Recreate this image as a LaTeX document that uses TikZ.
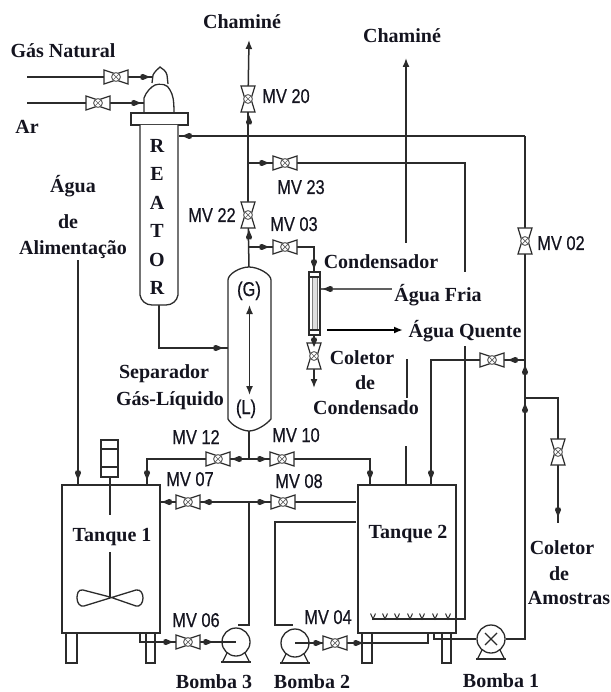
\documentclass[tikz,border=0pt]{standalone}
\usepackage{fontspec}
\setmainfont{Liberation Serif}
\newfontfamily\mvfont[FakeStretch=0.82,FakeBold=0.5]{Liberation Sans}
\usetikzlibrary{arrows.meta}
\definecolor{ink}{HTML}{2B2B2B}
\definecolor{labelink}{HTML}{14141F}
\tikzset{
  pipe/.style={draw=ink,line width=1.5pt,line join=miter},
  thin pipe/.style={draw=ink!75,line width=1.2pt},
  thick pipe/.style={draw=black,line width=2pt},
  outline/.style={draw=ink,line width=1.3pt,fill=white},
  outlineopen/.style={draw=ink,line width=1.3pt},
  endtip/.style={-{Latex[length=9pt,width=7pt]}},
  lab/.style={font=\fontsize{20}{22}\selectfont\bfseries,text=labelink,inner sep=0pt,text height=13pt,text depth=0pt},
  mv/.style={font=\mvfont\fontsize{20}{22}\selectfont,text=labelink,inner sep=0pt,text height=14pt,text depth=0pt},
  valvehit/.style={inner sep=0pt,minimum width=24pt,minimum height=14pt},
  valvehitv/.style={inner sep=0pt,minimum width=14pt,minimum height=26pt},
  pumpbody/.style={circle,draw=ink,line width=1.3pt,fill=white,minimum size=28pt,inner sep=0pt},
  pics/hvalve/.style={code={
    \draw[draw=ink,line width=1.2pt,fill=white] (-12,-7)--(-12,7)--(0,3)--(12,7)--(12,-7)--(0,-3)--cycle;
    \draw[draw=ink!75,line width=1pt,fill=white] (0,0) circle (4.4);
    \draw[draw=ink!75,line width=.7pt] (-3,-3)--(3,3) (-3,3)--(3,-3);
  }},
  pics/vvalve/.style={code={
    \draw[draw=ink,line width=1.2pt,fill=white] (-7,-13)--(7,-13)--(3,0)--(7,13)--(-7,13)--(-3,0)--cycle;
    \draw[draw=ink!75,line width=1pt,fill=white] (0,0) circle (4.4);
    \draw[draw=ink!75,line width=.7pt] (-3,-3)--(3,3) (-3,3)--(3,-3);
  }},
  pics/feet/.style={code={
    \draw[draw=ink,line width=1.2pt] (-9,11)--(-13,19) (9,11)--(13,19);
    \draw[draw=ink,line width=2pt] (-15,19.5)--(15,19.5);
  }},
}
\newcommand{\HV}[3]{\node[valvehit] (#1) at (#2,#3) {};}
\newcommand{\VV}[3]{\node[valvehitv] (#1) at (#2,#3) {};}
\newcommand{\TIP}[4]{\fill[ink] ({#1+5*(#3)},{#2+5*(#4)}) -- ({#1-2*(#3)-3*(#4)},{#2-2*(#4)-3*(#3)}) -- ({#1-4.5*(#3)-2.2*(#4)},{#2-4.5*(#4)-2.2*(#3)}) -- ({#1-4.5*(#3)+2.2*(#4)},{#2-4.5*(#4)+2.2*(#3)}) -- ({#1-2*(#3)+3*(#4)},{#2-2*(#4)+3*(#3)}) -- cycle;}
\begin{document}
\begin{tikzpicture}[x=1pt,y=-1pt]
\useasboundingbox (0,0) rectangle (610,692);
% named junctions and free ends
\coordinate (gnin) at (27,77);
\coordinate (gnout) at (152,77);
\coordinate (arin) at (27,103);
\coordinate (arout) at (144,103);
\coordinate (sepTop) at (249,267);
\coordinate (stack1) at (249,40);
\coordinate (j136) at (249,136);
\coordinate (j163) at (249,163);
\coordinate (j247) at (249,247);
\coordinate (reacIn) at (179,136);
\coordinate (c136) at (525,136);
\coordinate (c163) at (465,163);
\coordinate (e163) at (465,272);
\coordinate (c247) at (314,247);
\coordinate (condTop) at (314,272);
\coordinate (condBot) at (314,335);
\coordinate (condOut) at (314,388);
\coordinate (fria0) at (392,289);
\coordinate (fria1) at (321,289);
\coordinate (quente0) at (327,330);
\coordinate (quente1) at (403,330);
\coordinate (st2a) at (406,243);
\coordinate (st2b) at (406,58);
\coordinate (mid0) at (407,359);
\coordinate (mid1) at (407,398);
\coordinate (mid2) at (406,446);
\coordinate (mid3) at (406,485);
\coordinate (agua0) at (78,260);
\coordinate (agua1) at (78,485);
\coordinate (reacBot) at (159,305);
\coordinate (c348) at (159,348);
\coordinate (sep348) at (228,348);
\coordinate (sepBot) at (249,431);
\coordinate (j459) at (249,459);
\coordinate (c459l) at (147,459);
\coordinate (t1in) at (147,485);
\coordinate (c459r) at (370,459);
\coordinate (t2in) at (370,485);
\coordinate (t1side) at (160,502);
\coordinate (j502) at (249,502);
\coordinate (t2side) at (356,502);
\coordinate (c625) at (249,625);
\coordinate (p3top) at (238,625);
\coordinate (t1out) at (140,633);
\coordinate (c642) at (140,642);
\coordinate (t2top) at (356,522);
\coordinate (c522) at (275,522);
\coordinate (c625b) at (275,625);
\coordinate (p2top) at (293,625);
\coordinate (t2out) at (428,633);
\coordinate (c643) at (428,643);
\coordinate (t2outb) at (434,633);
\coordinate (c639) at (434,639);
\coordinate (c639r) at (525,639);
\coordinate (j360) at (525,360);
\coordinate (c360) at (431,360);
\coordinate (t2in2) at (431,485);
\coordinate (j398) at (525,398);
\coordinate (c398) at (558,398);
\coordinate (smp) at (558,523);
\coordinate (spa0) at (465,346);
\coordinate (spa1) at (465,619);
\coordinate (spa2) at (372,619);

% valves
\HV{vgn}{116}{77}
\HV{var}{98}{103}
\VV{v20}{248}{99}
\VV{v22}{248}{215}
\HV{v23}{285}{163}
\HV{v03}{285}{247}
\VV{v02}{525}{241}
\VV{vcd}{314}{356}
\HV{v12}{218}{459}
\HV{v10}{282}{459}
\HV{v07}{188}{502}
\HV{v08}{283}{502}
\HV{v06}{188}{642}
\HV{v04}{335}{643}
\HV{vret}{492}{360}
\VV{vsmp}{558}{452}
% pumps
\node[pumpbody] (p3) at (236,642) {};
\node[pumpbody] (p2) at (295,643) {};
\node[pumpbody] (p1) at (491,639) {};

% legs (under tanks)
\draw[outline] (66,633) rectangle (77,663);
\draw[outline] (146,633) rectangle (155,663);
\draw[outline] (362,633) rectangle (372,663);
\draw[outline] (442,633) rectangle (451,663);

% pipes
\draw[pipe] (gnin) -- (vgn);
\draw[pipe] (vgn) -- (gnout);
\draw[pipe] (arin) -- (var);
\draw[pipe] (var) -- (arout);
\draw[pipe] (sepTop) -- (v22);
\draw[pipe] (v22) -- (v20);
\draw[pipe,endtip] (v20) -- (stack1);
\draw[pipe] (c136) -- (reacIn);
\draw[pipe] (j163) -- (v23);
\draw[pipe] (v23) -- (c163) -- (e163);
\draw[pipe] (j247) -- (v03);
\draw[pipe] (v03) -- (c247) -- (condTop);
\draw[pipe] (condBot) -- (vcd);
\draw[pipe,endtip] (vcd) -- (condOut);
\draw[thin pipe] (fria0) -- (fria1);
\draw[thick pipe,-{Latex[length=9pt,width=7pt]}] (quente0) -- (quente1);
\draw[pipe,endtip] (st2a) -- (st2b);
\draw[pipe] (mid0) -- (mid1);
\draw[pipe] (mid2) -- (mid3);
\draw[pipe] (agua0) -- (agua1);
\draw[pipe] (reacBot) -- (c348) -- (sep348);
\draw[pipe] (sepBot) -- (j459);
\draw[pipe] (j459) -- (v12);
\draw[pipe] (v12) -- (c459l) -- (t1in);
\draw[pipe] (j459) -- (v10);
\draw[pipe] (v10) -- (c459r) -- (t2in);
\draw[pipe] (t1side) -- (v07);
\draw[pipe] (v07) -- (v08);
\draw[pipe] (v08) -- (t2side);
\draw[pipe] (j502) -- (c625) -- (p3top);
\draw[pipe] (t1out) -- (c642) -- (v06);
\draw[pipe] (v06) -- (p3);
\draw[pipe] (t2top) -- (c522) -- (c625b) -- (p2top);
\draw[pipe] (p2) -- (v04);
\draw[pipe] (v04) -- (c643) -- (t2out);
\draw[pipe] (t2outb) -- (c639) -- (p1);
\draw[pipe] (p1) -- (c639r) -- (v02);
\draw[pipe] (v02) -- (c136);
\draw[pipe] (j360) -- (vret);
\draw[pipe] (vret) -- (c360) -- (t2in2);
\draw[pipe] (j398) -- (c398) -- (vsmp);
\draw[pipe] (vsmp) -- (smp);
\draw[pipe] (spa0) -- (spa1) -- (spa2);

% valve symbols
\foreach \n in {vgn,var,v23,v03,v12,v10,v07,v08,v06,v04,vret} \pic at (\n) {hvalve};
\foreach \n in {v20,v22,v02,vcd,vsmp} \pic at (\n) {vvalve};

% tanks
\draw[draw=ink,line width=1.5pt,fill=white] (62,485) rectangle (160,633);
\draw[draw=ink,line width=1.5pt,fill=white] (358,485) rectangle (456,633);
\draw[pipe] (t1out) -- (c642);
% agitator
\draw[outline] (101,440) rectangle (118,477);
\draw[outlineopen] (101,449) -- (118,449) (101,467) -- (118,467);
\draw[outlineopen] (110,477) -- (110,515) (110,552) -- (110,597);
\draw[outlineopen] (110,597) -- (83,590) .. controls (78,589) and (77,594) .. (77,598) .. controls (77,603) and (80,607) .. (84,606) -- (136,590) .. controls (141,589) and (143,594) .. (143,598) .. controls (143,603) and (140,607) .. (136,606) -- (110,597);
% sparger
\foreach \sx in {373,385,397,410,422,435,448} \draw[draw=ink,line width=1pt] (\sx-2.5,613.5) -- (\sx,619) -- (\sx+2.5,613.5);
\draw[pipe] (spa1) -- (spa2);

% reactor
\draw[outline] (144,113) -- (144,98) .. controls (146,92) and (151,87) .. (155,85) .. controls (160,83) and (168,84) .. (170,90) .. controls (173,95) and (174,100) .. (174,113);
\draw[outline] (152,83) -- (153,75) .. controls (155,71) and (158,69) .. (160,67) .. controls (163,69) and (166,71) .. (167,75) -- (168,84);
\draw[outline] (131,113) rectangle (188,125);
\draw[outline] (140,125) -- (140,295) .. controls (141,301) and (146,305) .. (152,305) -- (166,305) .. controls (172,305) and (177,301) .. (178,295) -- (178,125);
% separator
\draw[outline] (228,419) -- (228,280) .. controls (228,274) and (240,267) .. (249,267) .. controls (258,267) and (271,274) .. (271,280) -- (271,419) .. controls (266,425) and (256,431) .. (249,431) .. controls (242,431) and (231,425) .. (228,419);
% condenser
\draw[outline] (309,272) rectangle (320,335);
\draw[draw=ink!60,line width=.8pt,fill=ink!15] (312,277) rectangle (317,330);
\draw[outline] (309,272) rectangle (320,277);
\draw[outline] (309,330) rectangle (320,335);

% separator internals
\coordinate (intTop) at (249.5,305);
\coordinate (intBot) at (249.5,395);
\draw[pipe,{Latex[length=9pt,width=7pt]}-{Latex[length=9pt,width=7pt]}] (intTop) -- (intBot);

% pump details
\draw[pipe] (p3.west) -- (p3.center);
\draw[pipe] (p2.center) -- (p2.east);
\draw[draw=ink,line width=1.1pt] (485,633) -- (497,645) (485,645) -- (497,633);
\pic at (p3) {feet};
\pic at (p2) {feet};
\pic at (p1) {feet};

% flow tips
\TIP{145}{77}{1}{0}
\TIP{136}{103}{1}{0}
\TIP{249}{120}{0}{-1}
\TIP{249}{235}{0}{-1}
\TIP{187}{136}{-1}{0}
\TIP{264}{163}{1}{0}
\TIP{264}{247}{1}{0}
\TIP{314}{264}{0}{1}
\TIP{328}{289}{-1}{0}
\TIP{218}{348}{1}{0}
\TIP{237}{459}{-1}{0}
\TIP{262}{459}{1}{0}
\TIP{147}{475}{0}{1}
\TIP{370}{475}{0}{1}
\TIP{431}{475}{0}{1}
\TIP{78}{475}{0}{1}
\TIP{167}{502}{-1}{0}
\TIP{207}{502}{-1}{0}
\TIP{262}{502}{1}{0}
\TIP{168}{642}{1}{0}
\TIP{208}{642}{1}{0}
\TIP{318}{643}{1}{0}
\TIP{358}{643}{1}{0}
\TIP{513}{360}{-1}{0}
\TIP{525}{370}{0}{-1}
\TIP{525}{408}{0}{-1}
\TIP{558}{512}{0}{1}
\TIP{314}{342}{0}{1}

% labels
\node[lab] (tGN) at (63,51) {Gás Natural};
\node[lab] (tAr) at (27,127) {Ar};
\node[lab] (tAg1) at (73,186) {Água};
\node[lab] (tAg2) at (68,222) {de};
\node[lab] (tAg3) at (73,248) {Alimentação};
\node[lab,align=center,font=\fontsize{20}{28.4}\selectfont\bfseries,text height=,text depth=] (tRe) at (157,217) {R\\E\\A\\T\\O\\R};
\node[lab] (tCh1) at (242,22) {Chaminé};
\node[lab] (tCh2) at (402,36) {Chaminé};
\node[lab] (tCd) at (381,262) {Condensador};
\node[lab] (tAF) at (438,295) {Água Fria};
\node[lab] (tAQ) at (465,331) {Água Quente};
\node[lab] (tCo1) at (362,358) {Coletor};
\node[lab] (tCo2) at (365,383) {de};
\node[lab] (tCo3) at (366,408) {Condensado};
\node[lab] (tSe1) at (164,372) {Separador};
\node[lab] (tSe2) at (170,399) {Gás-Líquido};
\node[lab] (tT1) at (112,535) {Tanque 1};
\node[lab] (tT2) at (408,532) {Tanque 2};
\node[lab] (tB3) at (214,682) {Bomba 3};
\node[lab] (tB2) at (312,682) {Bomba 2};
\node[lab] (tB1) at (501,681) {Bomba 1};
\node[lab] (tA1) at (562,548) {Coletor};
\node[lab] (tA2) at (559,574) {de};
\node[lab] (tA3) at (569,598) {Amostras};
\node[mv] (m20) at (286,96) {MV 20};
\node[mv] (m23) at (301,187) {MV 23};
\node[mv] (m22) at (212,215) {MV 22};
\node[mv] (m03) at (294,224) {MV 03};
\node[mv] (m02) at (561,243) {MV 02};
\node[mv] (m12) at (196,437) {MV 12};
\node[mv] (m10) at (296,435) {MV 10};
\node[mv] (m07) at (190,479) {MV 07};
\node[mv] (m08) at (299,481) {MV 08};
\node[mv] (m06) at (196,620) {MV 06};
\node[mv] (m04) at (328,617) {MV 04};
\node[mv] (tG) at (249,289) {(G)};
\node[mv] (tL) at (246,407) {(L)};
\end{tikzpicture}
\end{document}
